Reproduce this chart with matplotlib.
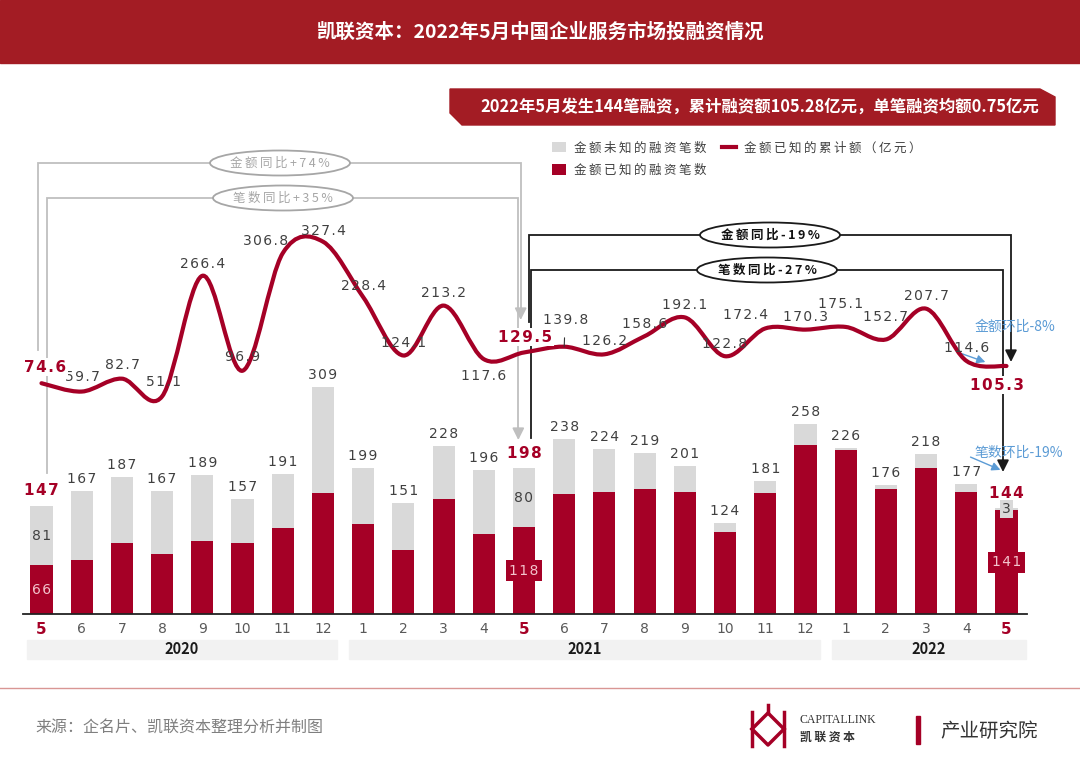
import matplotlib
matplotlib.use('Agg')
import matplotlib.pyplot as plt
import matplotlib.transforms as mtransforms
from matplotlib.path import Path
from matplotlib.patches import PathPatch, Rectangle, Polygon, Ellipse, Patch
from matplotlib.lines import Line2D
import numpy as np

plt.rcParams['font.family'] = ['Noto Sans CJK SC', 'DejaVu Sans']

# ---- data ----
months = ['5', '6', '7', '8', '9', '10', '11', '12',
          '1', '2', '3', '4', '5', '6', '7', '8', '9', '10', '11', '12',
          '1', '2', '3', '4', '5']
years = ['2020', '2021', '2022']
year_first_last = [(0, 7), (8, 19), (20, 24)]
total_deals = [147, 167, 187, 167, 189, 157, 191, 309,
               199, 151, 228, 196, 198, 238, 224, 219, 201, 124, 181, 258,
               226, 176, 218, 177, 144]
known_deals = [66, 73, 97, 82, 99, 97, 117, 164,
               122, 87, 157, 109, 118, 163, 166, 170, 166, 111, 165, 230,
               223, 170, 198, 166, 141]
amount = [74.6, 59.7, 82.7, 51.1, 266.4, 96.9, 306.8, 327.4,
          228.4, 124.1, 213.2, 117.6, 129.5, 139.8, 126.2, 158.6, 192.1, 122.8, 172.4, 170.3,
          175.1, 152.7, 207.7, 114.6, 105.3]
highlight = [0, 12, 24]

RED = '#A50026'
HEAD = '#A31C24'
GRAY = '#D9D9D9'
TXT = '#404040'

# label offsets for the line values, in pixels (dx, dy up)
amount_offsets = [(4, 16), (1, 15), (1, 14), (1, 14), (0, 12), (0, 14), (-17, 12), (0, 11),
                  (0, 11), (0, 12), (0, 13), (0, -17), (1, 15), (1, 27), (0, 13), (0, 12),
                  (0, 12), (0, 12), (-20, 13), (0, 13), (-5, 23), (0, 22), (0, 13), (0, 13),
                  (-9, -19)]


def spaced(s, sep='\u200a'):
    return sep.join(s)


x = np.arange(len(months))
total_deals = np.array(total_deals)
known_deals = np.array(known_deals)
unknown_deals = total_deals - known_deals

fig = plt.figure(figsize=(10.8, 7.66), dpi=100)

# background layer in pixel coordinates
bg = fig.add_axes([0, 0, 1, 1], zorder=0)
bg.set_xlim(0, 1080)
bg.set_ylim(766, 0)
bg.axis('off')

ax = fig.add_axes([23 / 1080, 1 - 614 / 766, 1004 / 1080, 474 / 766], zorder=1)
ax.patch.set_alpha(0)

# ---- header ----
bg.add_patch(Rectangle((0, 0), 1080, 63, color=HEAD))
bg.text(541, 32, '凯联资本：2022年5月中国企业服务市场投融资情况', color='white',
        fontsize=14, fontweight='bold', ha='center', va='center')
bg.add_patch(Polygon([(450, 89), (1040, 89), (1055, 97), (1055, 125), (462, 125), (450, 113)],
                     closed=True, color=HEAD))
bg.text(760, 107, '2022年5月发生144笔融资，累计融资额105.28亿元，单笔融资均额0.75亿元',
        color='white', fontsize=11.8, fontweight='bold', ha='center', va='center')

# ---- bars ----
bw = 0.55
ax.bar(x, known_deals, width=bw, color=RED, zorder=2)
ax.bar(x, unknown_deals, width=bw, bottom=known_deals, color=GRAY, zorder=2)
ax.set_xlim(-0.46, 24.51)
ax.set_ylim(0, 645)

for i, t in enumerate(total_deals):
    if i in highlight:
        ax.annotate(spaced(str(t)), (i, t), xytext=(0, 15), textcoords='offset pixels',
                    ha='center', va='center', fontsize=11, fontweight='bold', color=RED,
                    family=['DejaVu Sans'], zorder=5)
    else:
        ax.annotate(spaced(str(t)), (i, t), xytext=(0, 12), textcoords='offset pixels',
                    ha='center', va='center', fontsize=10, color=TXT, family=['DejaVu Sans'])

# inside labels for the highlighted months
for n, i in enumerate(highlight):
    k, u = known_deals[i], unknown_deals[i]
    if n == 0:
        ax.text(i, k + u / 2, spaced(str(u)), ha='center', va='center', fontsize=10, color=TXT,
                family=['DejaVu Sans'], zorder=4)
        ax.text(i, k / 2, spaced(str(k)), ha='center', va='center', fontsize=10, color='#F3C4CC',
                family=['DejaVu Sans'], zorder=4)
    else:
        ubox = None if n == 1 else dict(boxstyle='square,pad=0.15', fc=GRAY, ec='none')
        ax.text(i, k + u / 2, spaced(str(u)), ha='center', va='center', fontsize=10, color=TXT,
                family=['DejaVu Sans'], bbox=ubox, zorder=4)
        ax.text(i, k / 2, spaced(str(k)), ha='center', va='center', fontsize=10, color='#F3C4CC',
                family=['DejaVu Sans'], zorder=4,
                bbox=dict(boxstyle='square,pad=0.25', fc=RED, ec='none'))

for s in ['top', 'left', 'right']:
    ax.spines[s].set_visible(False)
ax.spines['bottom'].set_color('#222222')
ax.spines['bottom'].set_linewidth(1.3)
ax.set_yticks([])
ax.set_xticks(x)
ax.set_xticklabels(months, fontsize=10, color='#595959', family=['DejaVu Sans'])
ax.tick_params(axis='x', length=0, pad=6)
for i in highlight:
    lbl = ax.get_xticklabels()[i]
    lbl.set_color(RED)
    lbl.set_fontweight('bold')
    lbl.set_fontsize(11)

# year bands
trans = mtransforms.blended_transform_factory(ax.transData, fig.transFigure)
for yr, (a, b) in zip(years, year_first_last):
    left = a - 0.36 if a == 0 else a - 0.35
    right = b + 0.35 if b < len(months) - 1 else b + 0.49
    ax.add_patch(Rectangle((left, 1 - 659 / 766), right - left, 19 / 766, transform=trans,
                           color='#F2F2F2', clip_on=False, zorder=0))
    ax.text((left + right) / 2, 1 - 649.5 / 766, yr, transform=trans, ha='center', va='center',
            fontsize=10.5, fontweight='bold', color='#1A1A1A')

# ---- smoothed amount line ----
ax2 = ax.twinx()
ax2.set_ylim(-337.5, 508.9)
ax2.axis('off')
pts = np.column_stack([x, amount])
verts = [pts[0]]
codes = [Path.MOVETO]
n = len(pts)
for i in range(n - 1):
    p0 = pts[i - 1] if i > 0 else pts[i]
    p1, p2 = pts[i], pts[i + 1]
    p3 = pts[i + 2] if i + 2 < n else pts[i + 1]
    verts += [p1 + (p2 - p0) / 6, p2 - (p3 - p1) / 6, p2]
    codes += [Path.CURVE4] * 3
ax2.add_patch(PathPatch(Path(verts, codes), fc='none', ec=RED, lw=3, capstyle='round', zorder=3))

for i, (v, off) in enumerate(zip(amount, amount_offsets)):
    if i in highlight:
        ax2.annotate(spaced(f'{v:.1f}'), (i, v), xytext=off, textcoords='offset pixels',
                     ha='center', va='center', fontsize=11, fontweight='bold', color=RED,
                     family=['DejaVu Sans'], zorder=6,
                     bbox=dict(boxstyle='square,pad=0.1', fc='white', ec='none'))
    elif i == 13:
        ax2.annotate(spaced(f'{v:.1f}'), (i, v), xytext=off, textcoords='offset pixels',
                     ha='center', va='center', fontsize=10, color=TXT, family=['DejaVu Sans'],
                     arrowprops=dict(arrowstyle='-', color='#333333', lw=0.8, shrinkA=6, shrinkB=0))
    else:
        ax2.annotate(spaced(f'{v:.1f}'), (i, v), xytext=off, textcoords='offset pixels',
                     ha='center', va='center', fontsize=10, color=TXT, family=['DejaVu Sans'])


# ---- comparison brackets (pixel coordinates) ----
def bracket(x0, y0, ytop, x1, y1, color, lw):
    bg.plot([x0, x0, x1, x1], [y0, ytop, ytop, y1 - 10], color=color, lw=lw, solid_joinstyle='miter')
    bg.annotate('', xy=(x1, y1), xytext=(x1, y1 - 12),
                arrowprops=dict(arrowstyle='-|>,head_width=0.35,head_length=0.7', color=color,
                                lw=lw, shrinkA=0, shrinkB=0))


def oval(cx, cy, text, color, bold):
    bg.add_patch(Ellipse((cx, cy), 140, 25, fc='white', ec=color, lw=1.3, zorder=3))
    bg.text(cx, cy, spaced(text, '\u2009'), ha='center', va='center', fontsize=9,
            color=color if not bold else '#111111', fontweight='bold' if bold else 'normal', zorder=4)


LG = '#BFBFBF'
bracket(38, 350, 163, 520.7, 320, LG, 1.3)
bracket(46.5, 473, 198, 518.3, 440, LG, 1.3)
oval(280, 163, '金额同比+74%', '#A6A6A6', False)
oval(283, 198, '笔数同比+35%', '#A6A6A6', False)

bracket(528.7, 322, 235, 1011, 362, '#1A1A1A', 1.3)
bracket(531, 438, 270, 1003, 472, '#1A1A1A', 1.3)
oval(770, 235, '金额同比-19%', '#1A1A1A', True)
oval(767, 270, '笔数同比-27%', '#1A1A1A', True)

BLUE = '#5B9BD5'
bg.annotate('', xy=(988, 363), xytext=(957, 352),
            arrowprops=dict(arrowstyle='-|>,head_width=0.25,head_length=0.5', color=BLUE, lw=1))
bg.text(1015, 327, '金额环比-8%', color=BLUE, fontsize=10, fontweight='medium',
        ha='center', va='center')
bg.annotate('', xy=(1003, 471), xytext=(968, 456),
            arrowprops=dict(arrowstyle='-|>,head_width=0.25,head_length=0.5', color=BLUE, lw=1))
bg.text(1019, 453, '笔数环比-19%', color=BLUE, fontsize=10, fontweight='medium',
        ha='center', va='center')

# ---- legend ----
handles = [Patch(fc=GRAY, ec='none'), Patch(fc=RED, ec='none'), Line2D([], [], color=RED, lw=3)]
labels = [spaced('金额未知的融资笔数', '\u2009'), spaced('金额已知的融资笔数', '\u2009'),
          spaced('金额已知的累计额（亿元）', '\u2009')]
fig.legend(handles, labels, loc='upper left', bbox_to_anchor=(541 / 1080, 1 - 130 / 766), ncol=2,
           frameon=False, fontsize=9, labelcolor=TXT, handlelength=1.1, handleheight=0.9,
           handletextpad=0.6, columnspacing=1.3, labelspacing=0.75)

# ---- footer ----
bg.plot([0, 1080], [688, 688], color='#D99694', lw=1)
bg.text(35, 727, '来源：企名片、凯联资本整理分析并制图', color='#7F7F7F', fontsize=11.5,
        ha='left', va='center')
# simple logo mark
bg.plot([752, 752], [712, 746], color=RED, lw=2.5)
bg.plot([784, 784], [712, 746], color=RED, lw=2.5)
bg.plot([752, 768, 784], [729, 713, 729], color=RED, lw=2.5)
bg.plot([752, 768, 784], [729, 745, 729], color=RED, lw=2.5)
bg.plot([768, 768], [705, 713], color=RED, lw=2.5)
bg.text(800, 720, 'CAPITALLINK', color='#333333', fontsize=8.5, family=['Liberation Serif'],
        ha='left', va='center')
bg.text(800, 737, '凯 联 资 本', color='#333333', fontsize=8.5, ha='left', va='center',
        fontweight='bold')
bg.add_patch(Rectangle((916, 716), 3.5, 28, color=RED))
bg.text(940, 731, '产业研究院', color='#333333', fontsize=14, ha='left', va='center')

fig.savefig('out.png', dpi=100)
